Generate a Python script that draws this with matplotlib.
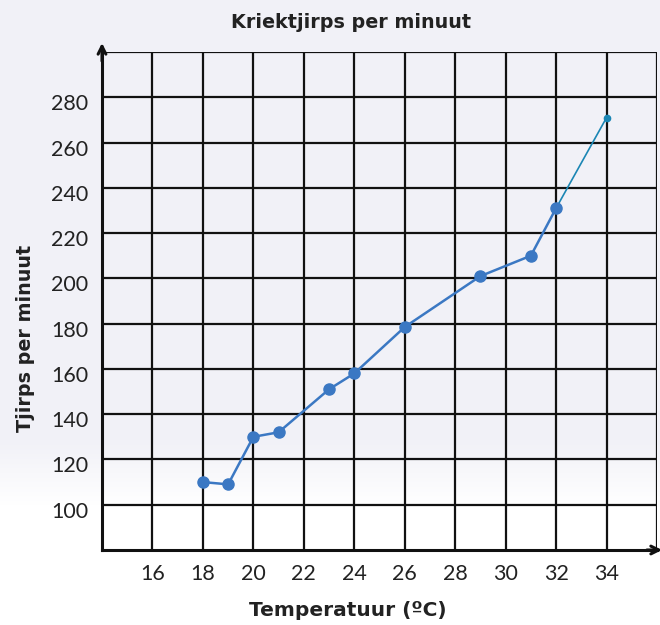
import numpy as np
import matplotlib
matplotlib.use("Agg")
import matplotlib.pyplot as plt
from matplotlib.transforms import ScaledTranslation

# Data
temperature = [18, 19, 20, 21, 23, 24, 26, 29, 31, 32]
chirps = [110, 109, 130, 132, 151, 158, 178.5, 201, 210, 231]
extra_temperature = [32, 34]
extra_chirps = [231, 271]
x_ticks = [16, 18, 20, 22, 24, 26, 28, 30, 32, 34]
y_ticks = [100, 120, 140, 160, 180, 200, 220, 240, 260, 280]
title = "Kriektjirps per minuut"
xlabel = "Temperatuur (ºC)"
ylabel = "Tjirps per minuut"

fig = plt.figure(figsize=(6.6, 6.25), dpi=100)

# background gradient (lavender top -> white bottom)
bg = fig.add_axes([0, 0, 1, 1], zorder=-10)
bg.axis("off")
h = 625
rows = np.ones((h, 1, 3))
top_col = np.array([0xf1, 0xf1, 0xf7]) / 255.0
for i in range(h):
    y = i
    if y < 440:
        t = 0.0
    elif y < 505:
        t = (y - 440) / 65.0
    else:
        t = 1.0
    rows[i, 0, :] = top_col * (1 - t) + np.array([1, 1, 1]) * t
bg.imshow(rows, aspect="auto", extent=[0, 1, 0, 1], transform=bg.transAxes)

ax = fig.add_axes([102 / 660, 1 - 550 / 625, (657 - 102) / 660, (550 - 52) / 625])
ax.set_facecolor("none")
ax.set_xlim(14, 36)
ax.set_ylim(80, 300)

# grid
for xv in range(16, 37, 2):
    ax.axvline(xv, color="#111111", lw=1.6, zorder=1)
for yv in range(100, 301, 20):
    ax.axhline(yv, color="#111111", lw=1.6, zorder=1)

for side in ["top", "right"]:
    ax.spines[side].set_visible(False)
for side in ["left", "bottom"]:
    ax.spines[side].set_linewidth(2.2)
    ax.spines[side].set_color("#111111")

ax.set_xticks(x_ticks)
ax.set_yticks(y_ticks)
ax.tick_params(length=0, labelsize=15.5, labelcolor="#222222", pad=10)
for lab in ax.get_xticklabels() + ax.get_yticklabels():
    lab.set_fontfamily(["Lato", "DejaVu Sans"])
    lab.set_fontweight("normal")
    lab.set_color("#222222")
off = ScaledTranslation(0, -5 / 100, fig.dpi_scale_trans)
for lab in ax.get_yticklabels():
    lab.set_transform(lab.get_transform() + off)

# axis arrows
ax.annotate("", xy=(14, 304), xytext=(14, 296), xycoords="data",
            arrowprops=dict(arrowstyle="->", lw=2.2, color="#111111",
                            mutation_scale=14, shrinkA=0, shrinkB=0),
            annotation_clip=False)
ax.annotate("", xy=(36.2, 80), xytext=(35.6, 80), xycoords="data",
            arrowprops=dict(arrowstyle="->", lw=2.2, color="#111111",
                            mutation_scale=14, shrinkA=0, shrinkB=0),
            annotation_clip=False)

# data
ax.plot(extra_temperature, extra_chirps, color="#1b86b4", lw=1.2, zorder=3,
        marker="o", markersize=4.5, clip_on=False)
ax.plot(temperature, chirps, color="#3b78c3", lw=1.8, marker="o",
        markersize=8, zorder=4, clip_on=False)

fig.text(351 / 660, 1 - 22 / 625, title, ha="center", va="center",
         fontsize=13.8, fontweight="bold", color="#222222",
         family=["DejaVu Sans"])
fig.text(348 / 660, 1 - 610 / 625, xlabel, ha="center", va="center",
         fontsize=14.5, fontweight="bold", color="#222222",
         family=["DejaVu Sans"])
fig.text(26 / 660, 1 - 338 / 625, ylabel, ha="center", va="center",
         rotation=90, fontsize=13.8, fontweight="bold", color="#222222",
         family=["DejaVu Sans"])

fig.savefig("out.png", dpi=100)
